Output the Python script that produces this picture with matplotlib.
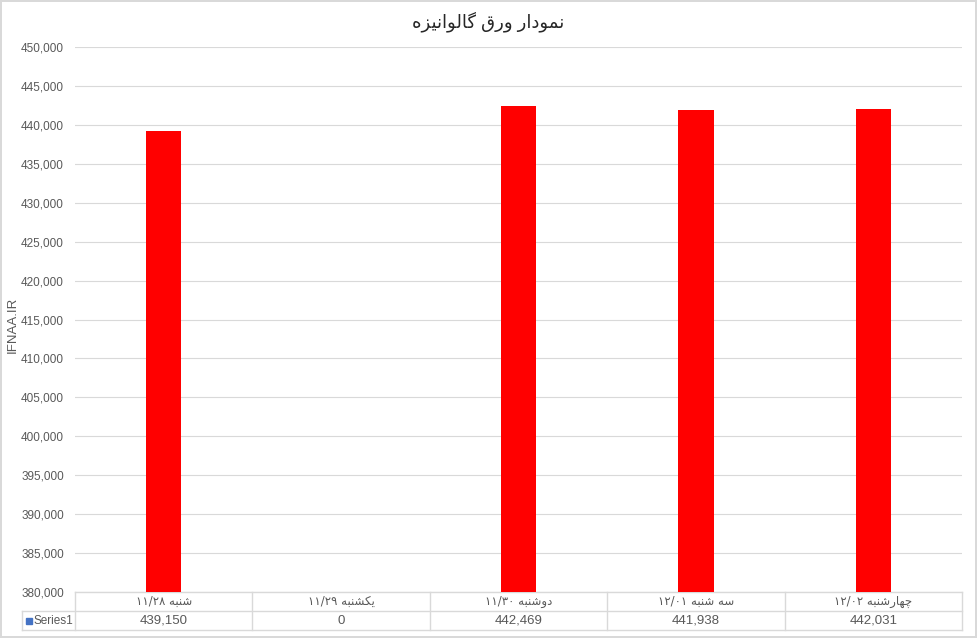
import matplotlib.pyplot as plt
from matplotlib.patches import Rectangle

# presentation forms: (isolated, final, initial, medial); None = does not join forward
FORMS = {
    'ا': (0xFE8D, 0xFE8E, None, None),
    'ب': (0xFE8F, 0xFE90, 0xFE91, 0xFE92),
    'چ': (0xFB7A, 0xFB7B, 0xFB7C, 0xFB7D),
    'د': (0xFEA9, 0xFEAA, None, None),
    'ر': (0xFEAD, 0xFEAE, None, None),
    'ز': (0xFEAF, 0xFEB0, None, None),
    'س': (0xFEB1, 0xFEB2, 0xFEB3, 0xFEB4),
    'ش': (0xFEB5, 0xFEB6, 0xFEB7, 0xFEB8),
    'ق': (0xFED5, 0xFED6, 0xFED7, 0xFED8),
    'ک': (0xFB8E, 0xFB8F, 0xFB90, 0xFB91),
    'گ': (0xFB92, 0xFB93, 0xFB94, 0xFB95),
    'ل': (0xFEDD, 0xFEDE, 0xFEDF, 0xFEE0),
    'م': (0xFEE1, 0xFEE2, 0xFEE3, 0xFEE4),
    'ن': (0xFEE5, 0xFEE6, 0xFEE7, 0xFEE8),
    'ه': (0xFEE9, 0xFEEA, 0xFEEB, 0xFEEC),
    'و': (0xFEED, 0xFEEE, None, None),
    'ی': (0xFBFC, 0xFBFD, 0xFBFE, 0xFBFF),
}


def shape(text):
    out = []
    for i, c in enumerate(text):
        f = FORMS.get(c)
        if f is None:
            out.append(c)
            continue
        prev = text[i - 1] if i > 0 else None
        nxt = text[i + 1] if i + 1 < len(text) else None
        jp = prev in FORMS and FORMS[prev][2] is not None
        jn = f[2] is not None and nxt in FORMS
        if jp and jn:
            g = f[3]
        elif jp:
            g = f[1]
        elif jn:
            g = f[2]
        else:
            g = f[0]
        out.append(chr(g))
    return ''.join(reversed(out))


# data
title = 'نمودار ورق گالوانیزه'
days = ['شنبه', 'یکشنبه', 'دوشنبه', 'سه شنبه', 'چهارشنبه']
dates = ['۱۱/۲۸', '۱۱/۲۹', '۱۱/۳۰', '۱۲/۰۱', '۱۲/۰۲']
values = [439150, 0, 442469, 441938, 442031]
series_name = 'Series1'

FONT = ['Liberation Sans', 'DejaVu Sans']
plt.rcParams['font.family'] = FONT
grey = '#595959'
line_c = '#d9d9d9'

fig = plt.figure(figsize=(9.77, 6.38), dpi=100)
fig.patch.set_edgecolor('#d9d9d9')
fig.patch.set_linewidth(1.5)
ax = fig.add_axes([75 / 977, 1 - 592 / 638, 887 / 977, 545 / 638])

x = list(range(len(values)))
ax.bar(x, values, width=0.2, color='#ff0000', zorder=3)
ax.set_xlim(-0.5, len(values) - 0.5)
ax.set_ylim(380000, 450000)
ax.set_yticks(range(380000, 450001, 5000))
ax.set_yticklabels([f'{v:,}' for v in range(380000, 450001, 5000)])
ax.tick_params(axis='y', length=0, pad=8, labelsize=8.5, labelcolor=grey)
ax.set_xticks([])
ax.grid(axis='y', color=line_c, linewidth=0.8, zorder=0)
for s in ax.spines.values():
    s.set_visible(False)

ax.set_ylabel('IFNAA.IR', fontsize=9.5, color=grey)
ax.yaxis.set_label_coords(-56 / 887, 0.49)
fig.text(0.5, 1 - 22 / 638, shape(title), ha='center', va='center',
         fontsize=13, color='#262626')

# data table under the plot
tr = ax.get_xaxis_transform()
rh = 19 / 545
left = -0.5 - (75 - 22) / 177.4
kw = dict(color=line_c, linewidth=1, transform=tr, clip_on=False)
ax.plot([-0.5, len(values) - 0.5], [0, 0], **kw)
ax.plot([left, len(values) - 0.5], [-rh, -rh], **kw)
ax.plot([left, len(values) - 0.5], [-2 * rh, -2 * rh], **kw)
for b in range(len(values) + 1):
    ax.plot([b - 0.5, b - 0.5], [0, -2 * rh], **kw)
ax.plot([left, left], [-rh, -2 * rh], **kw)

for i in x:
    lab = dates[i] + ' ' + shape(days[i])
    ax.text(i, -rh / 2, lab, transform=tr, ha='center', va='center',
            fontsize=8.5, color=grey, family=['DejaVu Sans'])
    ax.text(i, -1.5 * rh, f'{values[i]:,}', transform=tr, ha='center',
            va='center', fontsize=9.5, color=grey)

ax.add_patch(Rectangle((left + 4 / 177.4, -1.5 * rh - 3 / 545), 6 / 177.4, 6 / 545,
                       transform=tr, clip_on=False, color='#4472c4'))
ax.text(left + 11 / 177.4, -1.5 * rh, series_name, transform=tr, ha='left',
        va='center', fontsize=8.5, color=grey)

fig.savefig('out.png', dpi=100, edgecolor=fig.get_edgecolor())
